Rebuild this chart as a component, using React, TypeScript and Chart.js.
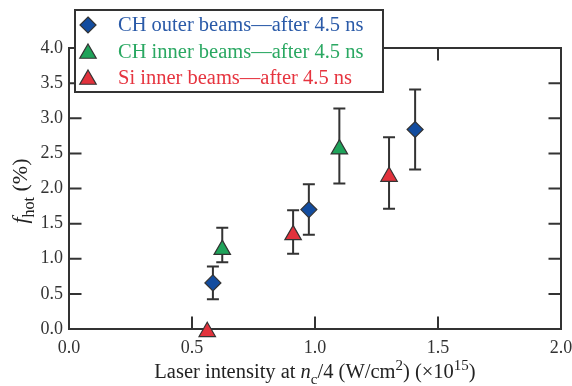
import React, { useEffect, useRef } from 'react';
import { Chart, registerables } from 'chart.js';

Chart.register(...registerables);

// ---- data ----
const xTickValues = [0, 0.5, 1.0, 1.5, 2.0];
const yTickValues = [0, 0.5, 1.0, 1.5, 2.0, 2.5, 3.0, 3.5, 4.0];

const seriesNames = [
  'CH outer beams\u2014after 4.5 ns',
  'CH inner beams\u2014after 4.5 ns',
  'Si inner beams\u2014after 4.5 ns',
];

const chOuterX = [0.585, 0.975, 1.407];
const chOuterY = [0.656, 1.70, 2.84];
const chOuterLow = [0.422, 1.34, 2.27];
const chOuterHigh = [0.889, 2.06, 3.41];

const chInnerX = [0.623, 1.099];
const chInnerY = [1.13, 2.56];
const chInnerLow = [0.95, 2.07];
const chInnerHigh = [1.44, 3.14];

const siInnerX = [0.562, 0.911, 1.301];
const siInnerY = [-0.04, 1.34, 2.17];
const siInnerLow: (number | null)[] = [null, 1.07, 1.71];
const siInnerHigh: (number | null)[] = [null, 1.69, 2.73];

// ---- styles ----
const FONT = '"Liberation Serif", "Times New Roman", serif';
const AXIS = '#333333';
const fills = ['#124c9f', '#1fa35a', '#e2323c'];
const textColors = ['#2a5aa8', '#2aa862', '#e6343f'];
const styles = ['rectRot', 'triangle', 'triangle'];
const radii = [8, 9.5, 9.5];

function pts(xs: number[], ys: number[]) {
  return xs.map((x, i) => ({ x, y: ys[i] }));
}

type Seg = { t: string; italic?: boolean; sub?: boolean; sup?: boolean };

function drawRich(ctx: CanvasRenderingContext2D, segs: Seg[], cx: number, baseY: number, size: number) {
  const fontFor = (s: Seg) => {
    const sz = s.sub || s.sup ? Math.round(size * 0.72) : size;
    return `${s.italic ? 'italic ' : ''}${sz}px ${FONT}`;
  };
  let total = 0;
  const widths = segs.map((s) => {
    ctx.font = fontFor(s);
    const w = ctx.measureText(s.t).width;
    total += w;
    return w;
  });
  let x = cx - total / 2;
  ctx.textAlign = 'left';
  ctx.textBaseline = 'alphabetic';
  segs.forEach((s, i) => {
    ctx.font = fontFor(s);
    const dy = s.sub ? size * 0.3 : s.sup ? -size * 0.38 : 0;
    ctx.fillText(s.t, x, baseY + dy);
    x += widths[i];
  });
}

const framePlugin = {
  id: 'frameAndErrors',
  beforeDatasetsDraw(chart: any) {
    const { ctx, chartArea: a, scales } = chart;
    const xs = scales.x;
    const ys = scales.y;
    ctx.save();
    ctx.strokeStyle = AXIS;
    ctx.lineWidth = 2;
    ctx.strokeRect(a.left, a.top, a.right - a.left, a.bottom - a.top);
    const tl = 12.5;
    ctx.beginPath();
    xTickValues.forEach((v) => {
      if (v <= 0 || v >= 2) return;
      const px = xs.getPixelForValue(v);
      ctx.moveTo(px, a.bottom);
      ctx.lineTo(px, a.bottom - tl);
      ctx.moveTo(px, a.top);
      ctx.lineTo(px, a.top + tl);
    });
    yTickValues.forEach((v) => {
      if (v <= 0 || v >= 4) return;
      const py = ys.getPixelForValue(v);
      ctx.moveTo(a.left, py);
      ctx.lineTo(a.left + tl, py);
      ctx.moveTo(a.right, py);
      ctx.lineTo(a.right - tl, py);
    });
    ctx.stroke();

    // error bars
    ctx.lineWidth = 2;
    ctx.strokeStyle = AXIS;
    chart.data.datasets.forEach((ds: any) => {
      ds.data.forEach((p: any, j: number) => {
        const lo = ds.errLow[j];
        const hi = ds.errHigh[j];
        if (lo == null || hi == null) return;
        const px = xs.getPixelForValue(p.x);
        const y1 = ys.getPixelForValue(lo);
        const y2 = ys.getPixelForValue(hi);
        ctx.beginPath();
        ctx.moveTo(px, y1);
        ctx.lineTo(px, y2);
        ctx.moveTo(px - 6, y1);
        ctx.lineTo(px + 6, y1);
        ctx.moveTo(px - 6, y2);
        ctx.lineTo(px + 6, y2);
        ctx.stroke();
      });
    });
    ctx.restore();
  },
  afterDraw(chart: any) {
    const { ctx, chartArea: a } = chart;
    ctx.save();
    // legend box
    const bx = 75, by = 10, bw = 308, bh = 82;
    ctx.fillStyle = '#ffffff';
    ctx.fillRect(bx, by, bw, bh);
    ctx.strokeStyle = AXIS;
    ctx.lineWidth = 2;
    ctx.strokeRect(bx, by, bw, bh);
    const rowY = [25, 52, 78];
    seriesNames.forEach((name, i) => {
      const mx = 88;
      const my = rowY[i] + (styles[i] === 'triangle' ? 1.5 : 0);
      ctx.fillStyle = fills[i];
      ctx.strokeStyle = AXIS;
      ctx.lineWidth = 1.2;
      ctx.beginPath();
      const r = radii[i];
      if (styles[i] === 'rectRot') {
        ctx.moveTo(mx, my - r);
        ctx.lineTo(mx + r, my);
        ctx.lineTo(mx, my + r);
        ctx.lineTo(mx - r, my);
      } else {
        for (let k = 0; k < 3; k++) {
          const ang = (k * 2 * Math.PI) / 3;
          const px = mx + Math.sin(ang) * r;
          const py = my - Math.cos(ang) * r;
          if (k === 0) ctx.moveTo(px, py);
          else ctx.lineTo(px, py);
        }
      }
      ctx.closePath();
      ctx.fill();
      ctx.stroke();
      ctx.fillStyle = textColors[i];
      ctx.font = `20.5px ${FONT}`;
      ctx.textAlign = 'left';
      ctx.textBaseline = 'middle';
      ctx.fillText(name, 118, rowY[i] + 1);
    });

    // x axis title
    ctx.fillStyle = '#222222';
    drawRich(
      ctx,
      [
        { t: 'Laser intensity at ' },
        { t: 'n', italic: true },
        { t: 'c', sub: true },
        { t: '/4 (W/cm' },
        { t: '2', sup: true },
        { t: ') (\u00d710' },
        { t: '15', sup: true },
        { t: ')' },
      ],
      (a.left + a.right) / 2,
      378,
      20.5
    );

    // y axis title
    ctx.save();
    ctx.translate(27, 191);
    ctx.rotate(-Math.PI / 2);
    drawRich(
      ctx,
      [
        { t: 'f', italic: true },
        { t: 'hot', sub: true },
        { t: ' (%)' },
      ],
      0,
      0,
      22
    );
    ctx.restore();
    ctx.restore();
  },
};

export default function App() {
  const ref = useRef<HTMLCanvasElement | null>(null);

  useEffect(() => {
    if (!ref.current) return;
    const mk = (i: number, xs: number[], ys: number[], lo: any[], hi: any[]) => ({
      label: seriesNames[i],
      data: pts(xs, ys),
      errLow: lo,
      errHigh: hi,
      pointStyle: styles[i],
      pointRadius: radii[i],
      pointHoverRadius: radii[i],
      pointBackgroundColor: fills[i],
      pointBorderColor: AXIS,
      pointBorderWidth: 1.2,
      showLine: false,
      clip: false,
    });
    const chart = new Chart(ref.current, {
      type: 'scatter',
      data: {
        datasets: [
          mk(2, siInnerX, siInnerY, siInnerLow, siInnerHigh),
          mk(1, chInnerX, chInnerY, chInnerLow, chInnerHigh),
          mk(0, chOuterX, chOuterY, chOuterLow, chOuterHigh),
        ] as any,
      },
      options: {
        responsive: false,
        animation: false,
        events: [],
        layout: { padding: { top: 48, right: 11, left: 0, bottom: 0 } },
        plugins: {
          legend: { display: false },
          tooltip: { enabled: false },
        },
        scales: {
          x: {
            type: 'linear',
            min: 0,
            max: 2,
            afterFit: (s: any) => {
              s.height = 57;
              s.paddingLeft = 0;
              s.paddingRight = 0;
            },
            afterBuildTicks: (s: any) => {
              s.ticks = xTickValues.map((v) => ({ value: v }));
            },
            grid: { display: false, drawTicks: false },
            border: { display: false },
            ticks: {
              padding: 8,
              color: '#333333',
              font: { family: FONT, size: 18 },
              maxRotation: 0,
              callback: (v: any) => Number(v).toFixed(1),
            },
          },
          y: {
            type: 'linear',
            min: 0,
            max: 4,
            afterFit: (s: any) => {
              s.width = 69;
              s.paddingTop = 0;
              s.paddingBottom = 0;
            },
            afterBuildTicks: (s: any) => {
              s.ticks = yTickValues.map((v) => ({ value: v }));
            },
            grid: { display: false, drawTicks: false },
            border: { display: false },
            ticks: {
              padding: 6,
              color: '#333333',
              font: { family: FONT, size: 18 },
              callback: (v: any) => Number(v).toFixed(1),
            },
          },
        },
      } as any,
      plugins: [framePlugin],
    });
    return () => chart.destroy();
  }, []);

  return (
    <div style={{ position: 'fixed', left: 0, top: 0, width: 572, height: 386, background: '#fff' }}>
      <canvas ref={ref} width={572} height={386} style={{ width: 572, height: 386, display: 'block' }} />
    </div>
  );
}
